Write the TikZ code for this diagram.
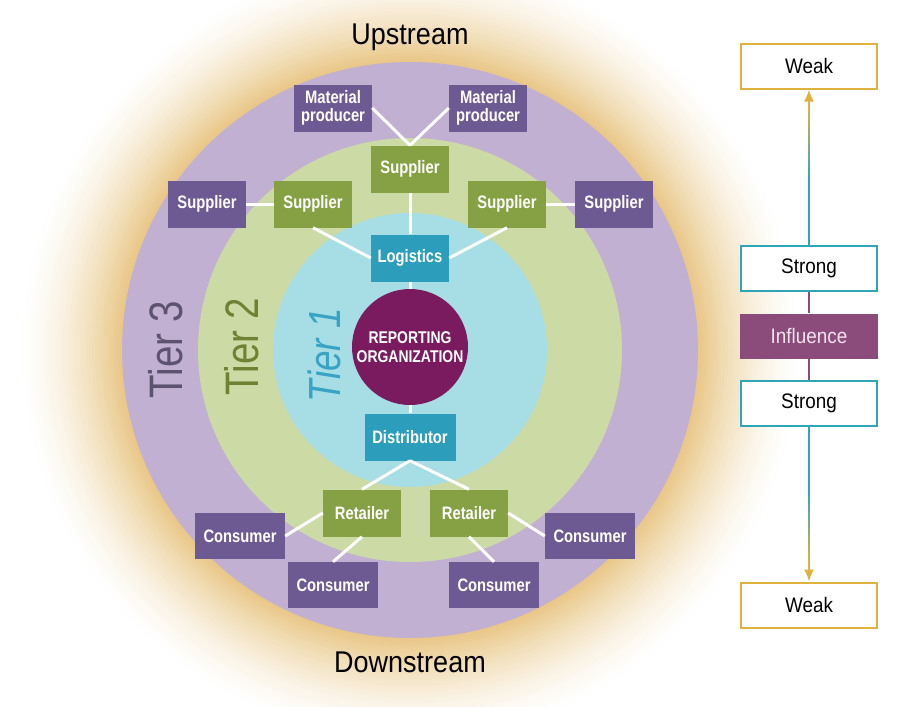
\documentclass[tikz,border=0pt]{standalone}
\usepackage{fontspec}
\setmainfont{Liberation Sans}
\newfontfamily\condfont{Liberation Sans}[FakeStretch=0.82]
\newfontfamily\narrowfont{Liberation Sans}[FakeStretch=0.9]
\usetikzlibrary{arrows.meta,positioning,calc}

\definecolor{ringthree}{HTML}{C2B0D2}
\definecolor{ringtwo}{HTML}{CCDBA6}
\definecolor{ringone}{HTML}{A7DDE5}
\definecolor{boxthree}{HTML}{6E5A92}
\definecolor{boxtwo}{HTML}{86A144}
\definecolor{boxone}{HTML}{2C9DBA}
\definecolor{orgcolor}{HTML}{7A1A5F}
\definecolor{tierthreetext}{HTML}{5C5370}
\definecolor{tiertwotext}{HTML}{6D8232}
\definecolor{tieronetext}{HTML}{38A3C4}
\definecolor{influence}{HTML}{8B4C7C}
\definecolor{influencetext}{HTML}{F3E3EE}
\definecolor{strongteal}{HTML}{2EA6B8}
\definecolor{weakgold}{HTML}{DFB23F}
\definecolor{glowgold}{HTML}{E8C583}

\begin{document}
\begin{tikzpicture}[x=1pt,y=-1pt,
    box/.style={minimum width=78pt,minimum height=47pt,inner sep=0pt,text=white,align=center,
        font=\condfont\bfseries\fontsize{18}{18}\selectfont},
    tierthree/.style={box,fill=boxthree},
    tiertwo/.style={box,fill=boxtwo},
    tierone/.style={box,fill=boxone},
    link/.style={white,line width=3pt},
    scalebox/.style={draw,line width=2pt,fill=white,minimum width=136pt,minimum height=45pt,inner sep=0pt,
        font=\narrowfont\fontsize{21}{24}\selectfont},
    tierlabel/.style={rotate=90,anchor=base,font=\condfont\fontsize{47}{50}\selectfont}]

            \useasboundingbox (0,0) rectangle (900,707);
            \fill[white] (0,0) rectangle (900,707);

            % glow round the rings
            \foreach \r in {396,393,...,288}{
                \pgfmathtruncatemacro\glow{100*((396-\r)/108)^1.6}
                \fill[glowgold!\glow!white] (410,350) circle [radius=\r pt];
            }
            \fill[ringthree] (410,350) circle [radius=288pt];
            \fill[ringtwo] (410,350) circle [radius=212pt];
            \fill[ringone] (410,350) circle [radius=137pt];

            \node[circle,fill=orgcolor,minimum size=116pt,inner sep=0pt,text=white,align=center,
                font=\condfont\bfseries\fontsize{17}{19}\selectfont] (org) at (410,347) {REPORTING\\ORGANIZATION};

            \node[tierlabel,text=tierthreetext] (tier3) at (182,350) {Tier 3};
            \node[tierlabel,text=tiertwotext] (tier2) at (258,347) {Tier 2};
            \node[tierlabel,text=tieronetext,font=\condfont\itshape\fontsize{45}{48}\selectfont] (tier1) at (340,355) {Tier 1};

            \node[anchor=base,font=\narrowfont\fontsize{30}{32}\selectfont] (upstream) at (410,44) {Upstream};
            \node[anchor=base,font=\narrowfont\fontsize{30}{32}\selectfont] (downstream) at (410,672) {Downstream};

            % upstream boxes
            \node[tierone] (logistics) at (410,258) {Logistics};
            \node[tiertwo] (supmid) at (410,169) {Supplier};
            \node[tiertwo] (supleft) at (313,204) {Supplier};
            \node[tiertwo] (supright) at (507,204) {Supplier};
            \node[tierthree] (supfarleft) at (207,204) {Supplier};
            \node[tierthree] (supfarright) at (614,204) {Supplier};
            \node[tierthree] (matleft) at (333,108) {Material\\producer};
            \node[tierthree] (matright) at (488,108) {Material\\producer};

            % downstream boxes
            \node[tierone,minimum width=91pt] (distributor) at (410,437) {Distributor};
            \node[tiertwo] (retleft) at (362,513) {Retailer};
            \node[tiertwo] (retright) at (469,513) {Retailer};
            \node[tierthree,minimum width=90pt,minimum height=46pt] (conleft) at (240,536) {Consumer};
            \node[tierthree,minimum width=90pt,minimum height=46pt] (conlowleft) at (333,585) {Consumer};
            \node[tierthree,minimum width=90pt,minimum height=46pt] (conlowright) at (494,585) {Consumer};
            \node[tierthree,minimum width=90pt,minimum height=46pt] (conright) at (590,536) {Consumer};

            \draw[link] (supmid.north) -- (matleft.east);
            \draw[link] (supmid.north) -- (matright.west);
            \draw[link] (supmid) -- (logistics);
            \draw[link] (supleft.south) -- (logistics.west);
            \draw[link] (supright.south) -- (logistics.east);
            \draw[link] (supfarleft) -- (supleft);
            \draw[link] (supfarright) -- (supright);
            \draw[link] (logistics) -- (org);
            \draw[link] (org) -- (distributor);
            \draw[link] (distributor.south) -- (retleft.north);
            \draw[link] (distributor.south) -- (retright.north);
            \draw[link] (retleft.west) -- (conleft.east);
            \draw[link] (retleft.south) -- (conlowleft.north);
            \draw[link] (retright.east) -- (conright.west);
            \draw[link] (retright.south) -- (conlowright.north);

            % influence scale
            \node[scalebox,draw=weakgold] (weaktop) at (809,66) {Weak};
            \node[scalebox,draw=strongteal] (strongtop) at (809,268) {Strong};
            \node[fill=influence,minimum width=138pt,minimum height=45pt,inner sep=0pt,text=influencetext,
                font=\narrowfont\fontsize{21}{24}\selectfont] (influence) at (809,336) {Influence};
            \node[scalebox,draw=strongteal] (strongbot) at (809,403) {Strong};
            \node[scalebox,draw=weakgold] (weakbot) at (809,605) {Weak};

            \draw[influence,line width=2pt] (strongtop) -- (influence);
            \draw[influence,line width=2pt] (influence) -- (strongbot);
            \draw[weakgold,line width=2pt,-{Latex[length=12pt,width=10pt]}] (strongtop) -- (weaktop);
            \draw[weakgold,line width=2pt,-{Latex[length=12pt,width=10pt]}] (strongbot) -- (weakbot);
            \foreach \i in {0,...,16}{
                \pgfmathtruncatemacro\mix{min(100,max(0,(0.85-\i/20)/0.45*100))}
                \draw[strongteal!\mix!weakgold,line width=2pt] ($(strongtop.north)!\i/20!(weaktop.south)$) -- ($(strongtop.north)!\i/20+0.055!(weaktop.south)$);
                \draw[strongteal!\mix!weakgold,line width=2pt] ($(strongbot.south)!\i/20!(weakbot.north)$) -- ($(strongbot.south)!\i/20+0.055!(weakbot.north)$);
            }

            \end{tikzpicture}
\end{document}
